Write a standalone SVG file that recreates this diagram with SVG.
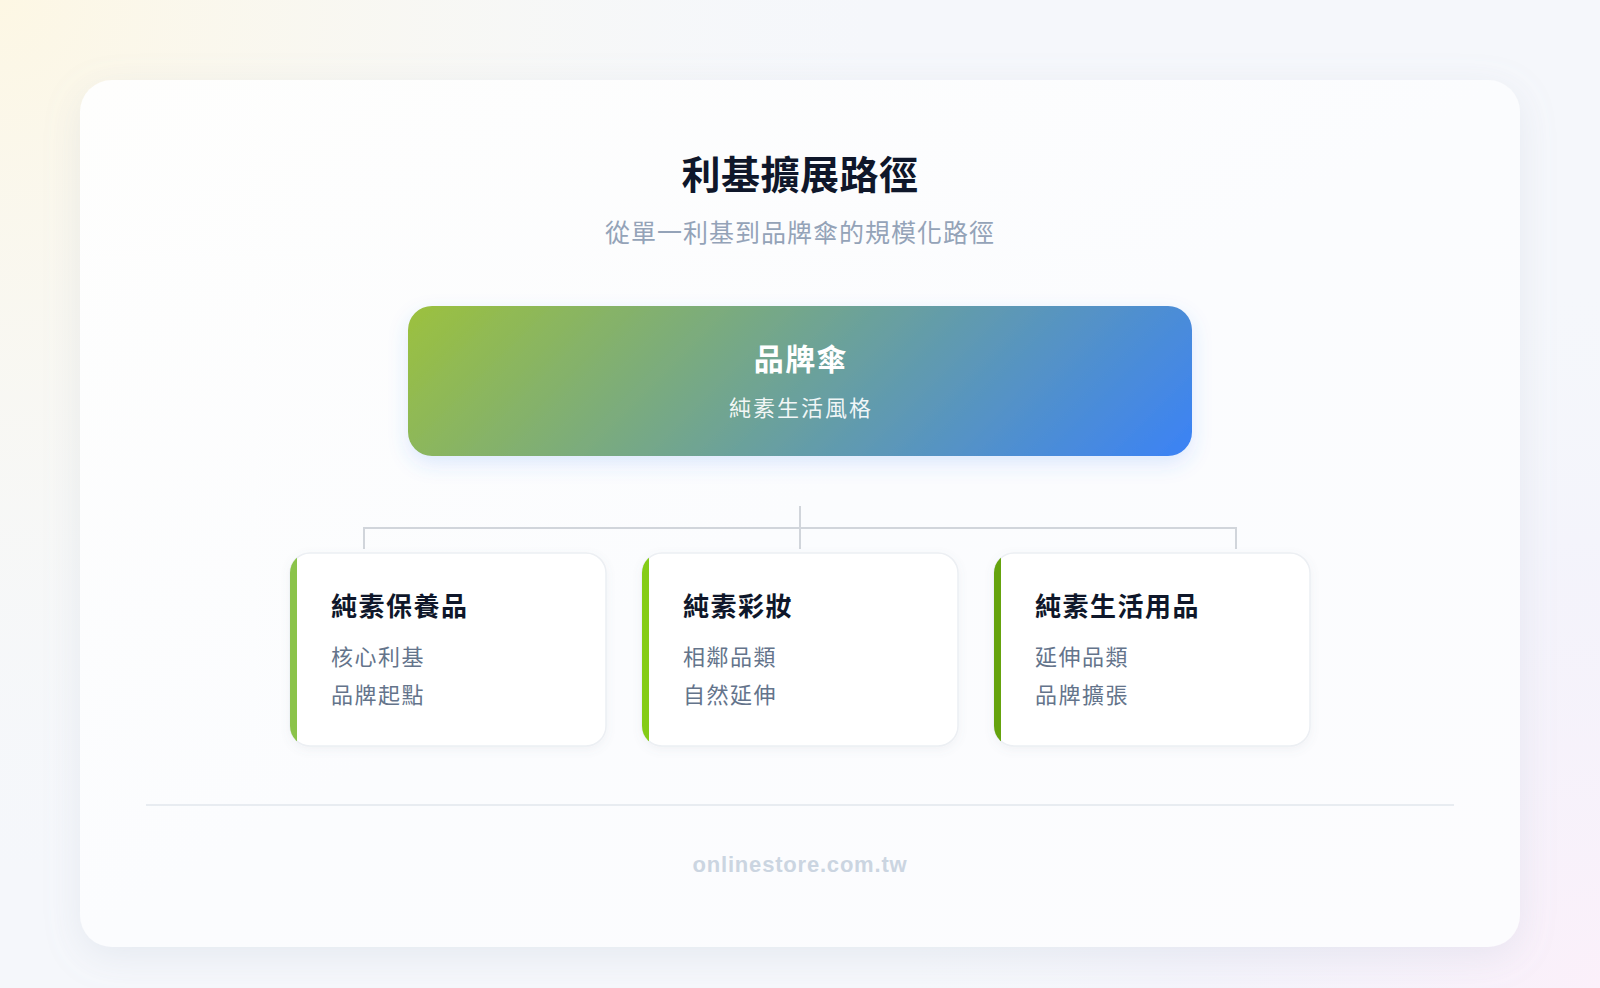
<svg xmlns="http://www.w3.org/2000/svg" width="1600" height="988" viewBox="0 0 1600 988">
  <defs>
    <radialGradient id="bgWarm" cx="0" cy="0" r="900" gradientUnits="userSpaceOnUse">
      <stop offset="0" stop-color="#fdf7e4"/>
      <stop offset="0.6" stop-color="#f8f8f4" stop-opacity="0.6"/>
      <stop offset="1" stop-color="#f6f8fb" stop-opacity="0"/>
    </radialGradient>
    <radialGradient id="bgPink" cx="1600" cy="988" r="700" gradientUnits="userSpaceOnUse">
      <stop offset="0" stop-color="#fbf0fa"/>
      <stop offset="0.6" stop-color="#f3f1fb" stop-opacity="0.6"/>
      <stop offset="1" stop-color="#f4f6fb" stop-opacity="0"/>
    </radialGradient>
    <linearGradient id="cardBg" x1="0" y1="0" x2="1" y2="1">
      <stop offset="0" stop-color="#fefefd"/>
      <stop offset="0.5" stop-color="#fbfcfe"/>
      <stop offset="1" stop-color="#fcfcfe"/>
    </linearGradient>
    <linearGradient id="mainGrad" gradientUnits="userSpaceOnUse" x1="567" y1="148" x2="1033" y2="614">
      <stop offset="0" stop-color="#9cc13e"/>
      <stop offset="1" stop-color="#3b82f6"/>
    </linearGradient>
    <filter id="outerShadow" x="-10%" y="-10%" width="120%" height="125%">
      <feDropShadow dx="0" dy="10" stdDeviation="18" flood-color="#94a3b8" flood-opacity="0.16"/>
    </filter>
    <filter id="mainShadow" x="-10%" y="-30%" width="120%" height="170%">
      <feDropShadow dx="0" dy="8" stdDeviation="10" flood-color="#3b82f6" flood-opacity="0.16"/>
    </filter>
    <filter id="cardShadow" x="-10%" y="-10%" width="120%" height="130%">
      <feDropShadow dx="0" dy="3" stdDeviation="5" flood-color="#64748b" flood-opacity="0.08"/>
    </filter>
    <clipPath id="clip1"><rect x="290" y="553" width="316" height="193" rx="20"/></clipPath>
    <clipPath id="clip2"><rect x="642" y="553" width="316" height="193" rx="20"/></clipPath>
    <clipPath id="clip3"><rect x="994" y="553" width="316" height="193" rx="20"/></clipPath>
    <style>
      .cjk { font-family: "Noto Sans CJK TC", "Noto Sans CJK SC", sans-serif; }
      .title { font-size: 39px; font-weight: 700; fill: #0f172a; letter-spacing: 0.5px; }
      .subtitle { font-size: 25px; font-weight: 400; fill: #94a3b8; letter-spacing: 1px; }
      .mainT { font-size: 30px; font-weight: 700; fill: #ffffff; letter-spacing: 1.5px; }
      .mainS { font-size: 22px; font-weight: 400; fill: #ffffff; fill-opacity: 0.92; letter-spacing: 2px; }
      .cardT { font-size: 26px; font-weight: 700; fill: #0f172a; letter-spacing: 1.5px; }
      .cardL { font-size: 22px; font-weight: 400; fill: #64748b; letter-spacing: 1.5px; }
      .card { fill: #ffffff; stroke: #eceff3; stroke-width: 1.5; }
      .conn { fill: none; stroke: #d1d5db; stroke-width: 2; }
      .footer { font-family: "Liberation Sans", Arial, sans-serif; font-size: 22px; font-weight: 700; fill: #cbd5e1; letter-spacing: 0.8px; }
    </style>
  </defs>

  <rect x="0" y="0" width="1600" height="988" fill="#f5f7fb"/>
  <rect x="0" y="0" width="1600" height="988" fill="url(#bgWarm)"/>
  <rect x="0" y="0" width="1600" height="988" fill="url(#bgPink)"/>

  <g id="panel">
    <rect x="80" y="80" width="1440" height="867" rx="32" fill="url(#cardBg)" filter="url(#outerShadow)"/>
  </g>

  <g id="header">
    <text class="cjk title" x="800" y="189" text-anchor="middle">利基擴展路徑</text>
    <text class="cjk subtitle" x="800" y="242" text-anchor="middle">從單一利基到品牌傘的規模化路徑</text>
  </g>

  <g id="node-umbrella">
    <rect x="408" y="306" width="784" height="150" rx="24" fill="url(#mainGrad)" filter="url(#mainShadow)"/>
    <text class="cjk mainT" x="801" y="370" text-anchor="middle">品牌傘</text>
    <text class="cjk mainS" x="801" y="416" text-anchor="middle">純素生活風格</text>
  </g>

  <g id="connectors">
    <path class="conn" d="M800 506 V549"/>
    <path class="conn" d="M364 549 V528 H1236 V549"/>
  </g>

  <g id="node-skincare">
    <rect class="card" x="290" y="553" width="316" height="193" rx="20" filter="url(#cardShadow)"/>
    <rect x="290" y="553" width="7" height="193" fill="#8bc34a" clip-path="url(#clip1)"/>
    <text class="cjk cardT" x="331" y="616">純素保養品</text>
    <text class="cjk cardL" x="331" y="665">核心利基</text>
    <text class="cjk cardL" x="331" y="703">品牌起點</text>
  </g>

  <g id="node-makeup">
    <rect class="card" x="642" y="553" width="316" height="193" rx="20" filter="url(#cardShadow)"/>
    <rect x="642" y="553" width="7" height="193" fill="#84cc16" clip-path="url(#clip2)"/>
    <text class="cjk cardT" x="683" y="616">純素彩妝</text>
    <text class="cjk cardL" x="683" y="665">相鄰品類</text>
    <text class="cjk cardL" x="683" y="703">自然延伸</text>
  </g>

  <g id="node-lifestyle">
    <rect class="card" x="994" y="553" width="316" height="193" rx="20" filter="url(#cardShadow)"/>
    <rect x="994" y="553" width="7" height="193" fill="#65a30d" clip-path="url(#clip3)"/>
    <text class="cjk cardT" x="1035" y="616">純素生活用品</text>
    <text class="cjk cardL" x="1035" y="665">延伸品類</text>
    <text class="cjk cardL" x="1035" y="703">品牌擴張</text>
  </g>

  <g id="footer">
    <line x1="146" y1="805" x2="1454" y2="805" stroke="#e8ecf1" stroke-width="2"/>
    <text class="footer" x="800" y="872" text-anchor="middle">onlinestore.com.tw</text>
  </g>
</svg>
